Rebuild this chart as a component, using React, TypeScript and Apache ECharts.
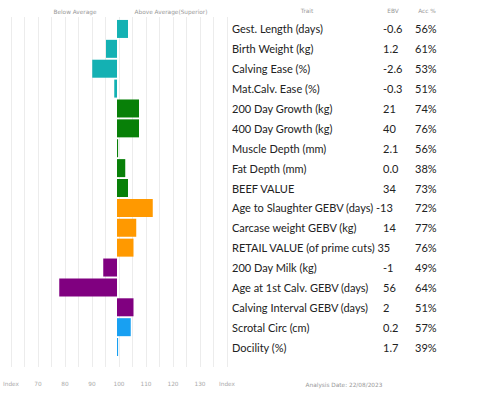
import React, { useEffect, useRef } from "react";
import * as echarts from "echarts";

const traits = [
  "Gest. Length (days)",
  "Birth Weight (kg)",
  "Calving Ease (%)",
  "Mat.Calv. Ease (%)",
  "200 Day Growth (kg)",
  "400 Day Growth (kg)",
  "Muscle Depth (mm)",
  "Fat Depth (mm)",
  "BEEF VALUE",
  "Age to Slaughter GEBV (days)",
  "Carcase weight GEBV (kg)",
  "RETAIL VALUE (of prime cuts)",
  "200 Day Milk (kg)",
  "Age at 1st Calv. GEBV (days)",
  "Calving Interval GEBV (days)",
  "Scrotal Circ (cm)",
  "Docility (%)",
];
const ebv = ["-0.6", "1.2", "-2.6", "-0.3", "21", "40", "2.1", "0.0", "34", "-13", "14", "35", "-1", "56", "2", "0.2", "1.7"];
const acc = [56, 61, 53, 51, 74, 76, 56, 38, 73, 72, 77, 76, 49, 64, 51, 57, 39];
const indexValues = [104, 96, 91, 99, 108, 108, 100.4, 103, 104, 113, 107, 106, 95, 79, 106, 105, 100.4];
const groups = [
  "calving", "calving", "calving", "calving",
  "growth", "growth", "growth", "growth", "growth",
  "carcase", "carcase", "carcase",
  "maternal", "maternal", "maternal",
  "other", "other",
];
// rows whose EBV is printed straight after the trait name in the reference
const inlineEbvTraits = ["Age to Slaughter GEBV (days)", "RETAIL VALUE (of prime cuts)"];
const tickLabelEnd = "Index";
const analysisDate = "Analysis Date: 22/08/2023";

const groupColors: Record<string, string> = {
  calving: "#14b1b3",
  growth: "#088008",
  carcase: "#ff9900",
  maternal: "#800080",
  other: "#18a0f2",
};

const BASE = 100;
const SMALL_FONT = "'DejaVu Sans', Verdana, sans-serif";
const MAIN_FONT = "Lato, sans-serif";

export default function App() {
  const ref = useRef<HTMLDivElement>(null);
  useEffect(() => {
    if (!ref.current) return;
    const chart = echarts.init(ref.current, null, { renderer: "svg" });
    const mainLabel = { fontFamily: MAIN_FONT, fontSize: 11, color: "#222", interval: 0, align: "left" };
    const catAxis = (offset: number, margin: number, formatter: any) => ({
      gridIndex: 0,
      type: "category",
      data: traits,
      inverse: true,
      position: "right",
      offset,
      axisLine: { show: false },
      axisTick: { show: false },
      splitLine: { show: false },
      axisLabel: { ...mainLabel, margin, formatter },
    });
    const smallText = (text: string, x: number, y: number) => ({
      type: "text",
      x,
      y,
      style: { text, fontFamily: SMALL_FONT, fontSize: 5.8, fill: "#999", align: "center", verticalAlign: "middle" },
    });
    const option: any = {
      animation: false,
      grid: [
        { left: 7, width: 220, top: 19, height: 338 },
        { left: 7, width: 220, top: 17, height: 350 },
      ],
      xAxis: [
        { gridIndex: 0, type: "value", min: -40, max: 40, interval: 5, show: false },
        {
          gridIndex: 1,
          type: "value",
          min: -40,
          max: 40,
          interval: 5,
          axisLine: { show: false },
          axisTick: { show: false },
          splitLine: { show: true, lineStyle: { color: "#ececec", width: 1 } },
          axisLabel: {
            margin: 14,
            fontFamily: SMALL_FONT,
            fontSize: 5.8,
            color: "#aaa",
            formatter: (v: number) => {
              if (v === -40 || v === 40) return tickLabelEnd;
              if (v % 10 === 0) return String(v + BASE);
              return "";
            },
          },
        },
      ],
      yAxis: [
        catAxis(0, 5, (value: string, i: number) =>
          inlineEbvTraits.includes(value) ? `${value} ${ebv[i]}` : value
        ),
        { gridIndex: 1, type: "value", min: 0, max: 1, show: false },
        catAxis(156, 0, (value: string, i: number) => (inlineEbvTraits.includes(value) ? "" : ebv[i])),
        catAxis(188, 0, (_value: string, i: number) => `${acc[i]}%`),
      ],
      series: [
        {
          type: "bar",
          xAxisIndex: 0,
          yAxisIndex: 0,
          barWidth: 18,
          data: indexValues.map((v, i) => ({
            value: v - BASE,
            itemStyle: { color: groupColors[groups[i]] },
          })),
        },
      ],
      graphic: [
        smallText("Below Average", 75, 12),
        smallText("Above Average(Superior)", 171, 12),
        smallText("Trait", 307, 11),
        smallText("EBV", 393, 11),
        smallText("Acc %", 427, 11),
        smallText(analysisDate, 344, 385),
      ],
    };
    chart.setOption(option);
    return () => chart.dispose();
  }, []);
  return (
    <div
      ref={ref}
      style={{ position: "fixed", left: 0, top: 0, width: 482, height: 397, background: "#fff" }}
    />
  );
}
